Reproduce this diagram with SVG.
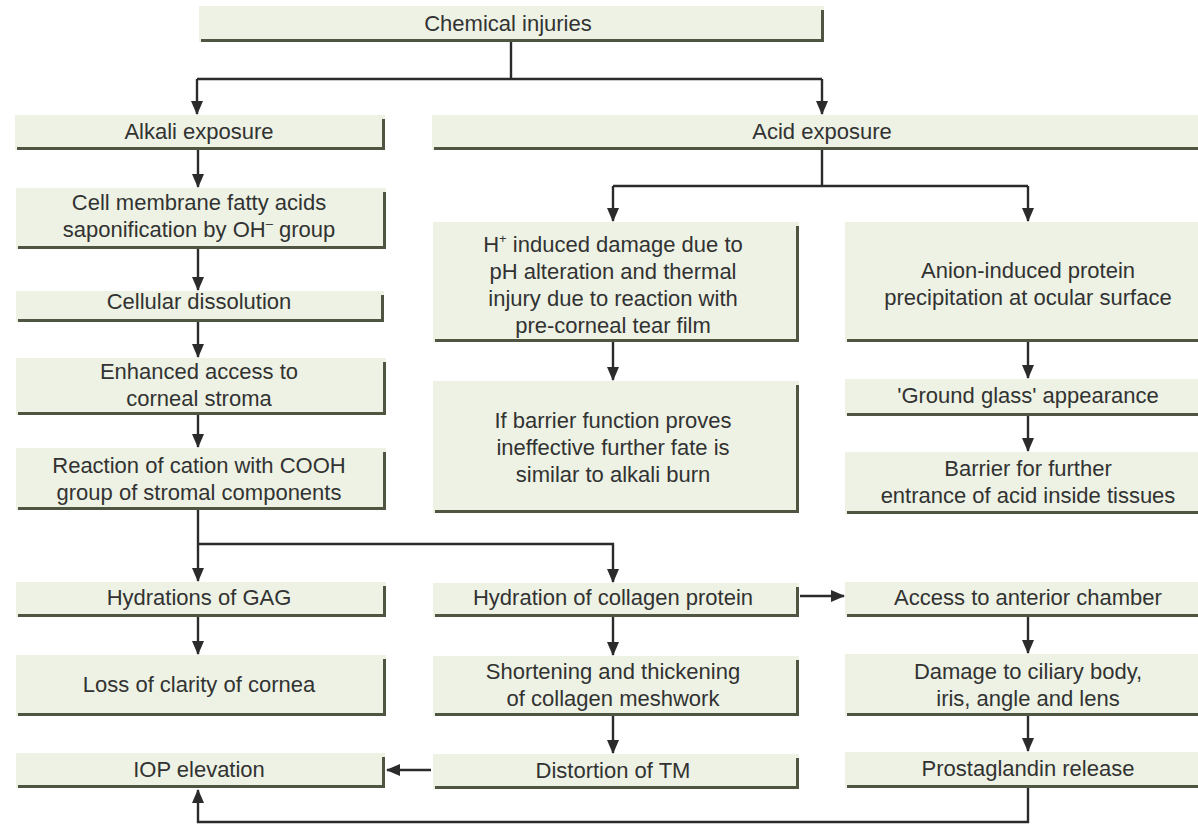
<svg xmlns="http://www.w3.org/2000/svg" width="1198" height="825" viewBox="0 0 1198 825">
  <style>
    .box { fill: #edf2e4; }
    .shadow { fill: none; stroke: #4e5540; stroke-width: 3; }
    .lbl { font-family: "Liberation Sans", Arial, sans-serif; font-size: 22px; fill: #323232; text-anchor: middle; }
    .sup { font-size: 13px; }
    .conn { fill: none; stroke: #2b2b2b; stroke-width: 2.4; }
    .arr { marker-end: url(#head); }
  </style>
  <defs>
    <marker id="head" viewBox="0 0 14 14" markerWidth="14" markerHeight="14" refX="13" refY="7" orient="auto" markerUnits="userSpaceOnUse">
      <path d="M0,1 L14,7 L0,13 z" fill="#2b2b2b"/>
    </marker>
  </defs>
  <rect width="1198" height="825" fill="#ffffff"/>

  <!-- connectors -->
  <g id="connectors">
    <path class="conn" d="M511,42 V79 M197,79 H822"/>
    <path class="conn arr" d="M197,79 V114"/>
    <path class="conn arr" d="M822,79 V114"/>
    <path class="conn arr" d="M198,150 V187"/>
    <path class="conn arr" d="M198,249 V290"/>
    <path class="conn arr" d="M198,322 V357"/>
    <path class="conn arr" d="M198,415 V447"/>
    <path class="conn arr" d="M198,510 V581"/>
    <path class="conn arr" d="M198,544 H613 V582"/>
    <path class="conn" d="M822,150 V186 M613,186 H1028"/>
    <path class="conn arr" d="M613,186 V221"/>
    <path class="conn arr" d="M1028,186 V221"/>
    <path class="conn arr" d="M613,342 V380"/>
    <path class="conn arr" d="M1028,342 V378"/>
    <path class="conn arr" d="M1028,416 V451"/>
    <path class="conn arr" d="M198,617 V654"/>
    <path class="conn arr" d="M613,617 V655"/>
    <path class="conn arr" d="M613,716 V753"/>
    <path class="conn arr" d="M800,596 H844"/>
    <path class="conn arr" d="M1028,617 V653"/>
    <path class="conn arr" d="M1028,716 V751"/>
    <path class="conn arr" d="M431,770 H387"/>
    <path class="conn arr" d="M1028,788 V822 H198 V790"/>
  </g>

  <!-- top -->
  <g id="chemical-injuries">
    <rect class="box" x="199" y="6" width="625" height="36"/>
    <path class="shadow" d="M201,40.5 H822.5 V10"/>
    <text class="lbl" x="508" y="31">Chemical injuries</text>
  </g>
  <g id="alkali-exposure">
    <rect class="box" x="15" y="115" width="370" height="35"/>
    <path class="shadow" d="M17,148.5 H383.5 V119"/>
    <text class="lbl" x="199" y="139">Alkali exposure</text>
  </g>
  <g id="acid-exposure">
    <rect class="box" x="432" y="115" width="775" height="35"/>
    <path class="shadow" d="M434,148.5 H1205"/>
    <text class="lbl" x="822" y="139">Acid exposure</text>
  </g>

  <!-- alkali branch -->
  <g id="saponification">
    <rect class="box" x="16" y="188" width="370" height="61"/>
    <path class="shadow" d="M18,247.5 H384.5 V192"/>
    <text class="lbl" x="199" y="210">Cell membrane fatty acids</text>
    <text class="lbl" x="199" y="237">saponification by OH<tspan class="sup" dy="-9">–</tspan><tspan dy="9"> group</tspan></text>
  </g>
  <g id="cellular-dissolution">
    <rect class="box" x="16" y="291" width="368" height="31"/>
    <path class="shadow" d="M18,320.5 H382.5 V295"/>
    <text class="lbl" x="199" y="309">Cellular dissolution</text>
  </g>
  <g id="enhanced-access">
    <rect class="box" x="16" y="358" width="370" height="57"/>
    <path class="shadow" d="M18,413.5 H384.5 V362"/>
    <text class="lbl" x="199" y="379">Enhanced access to</text>
    <text class="lbl" x="199" y="406">corneal stroma</text>
  </g>
  <g id="cation-reaction">
    <rect class="box" x="16" y="448" width="370" height="62"/>
    <path class="shadow" d="M18,508.5 H384.5 V452"/>
    <text class="lbl" x="199" y="473">Reaction of cation with COOH</text>
    <text class="lbl" x="199" y="500">group of stromal components</text>
  </g>
  <g id="gag-hydration">
    <rect class="box" x="16" y="582" width="370" height="35"/>
    <path class="shadow" d="M18,615.5 H384.5 V586"/>
    <text class="lbl" x="199" y="605">Hydrations of GAG</text>
  </g>
  <g id="loss-of-clarity">
    <rect class="box" x="16" y="655" width="370" height="61"/>
    <path class="shadow" d="M18,714.5 H384.5 V659"/>
    <text class="lbl" x="199" y="692">Loss of clarity of cornea</text>
  </g>
  <g id="iop-elevation">
    <rect class="box" x="16" y="753" width="369" height="35"/>
    <path class="shadow" d="M18,786.5 H383.5 V757"/>
    <text class="lbl" x="199" y="777">IOP elevation</text>
  </g>

  <!-- acid branch, middle -->
  <g id="h-induced-damage">
    <rect class="box" x="433" y="222" width="366" height="120"/>
    <path class="shadow" d="M435,340.5 H797.5 V226"/>
    <text class="lbl" x="613" y="252">H<tspan class="sup" dy="-9">+</tspan><tspan dy="9"> induced damage due to</tspan></text>
    <text class="lbl" x="613" y="279">pH alteration and thermal</text>
    <text class="lbl" x="613" y="306">injury due to reaction with</text>
    <text class="lbl" x="613" y="333">pre-corneal tear film</text>
  </g>
  <g id="barrier-ineffective">
    <rect class="box" x="433" y="381" width="366" height="132"/>
    <path class="shadow" d="M435,511.5 H797.5 V385"/>
    <text class="lbl" x="613" y="428">If barrier function proves</text>
    <text class="lbl" x="613" y="455">ineffective further fate is</text>
    <text class="lbl" x="613" y="482">similar to alkali burn</text>
  </g>

  <!-- acid branch, right -->
  <g id="anion-precipitation">
    <rect class="box" x="845" y="222" width="360" height="120"/>
    <path class="shadow" d="M847,340.5 H1205"/>
    <text class="lbl" x="1028" y="278">Anion-induced protein</text>
    <text class="lbl" x="1028" y="305">precipitation at ocular surface</text>
  </g>
  <g id="ground-glass">
    <rect class="box" x="845" y="379" width="360" height="37"/>
    <path class="shadow" d="M847,414.5 H1205"/>
    <text class="lbl" x="1028" y="403">'Ground glass' appearance</text>
  </g>
  <g id="acid-barrier">
    <rect class="box" x="845" y="452" width="360" height="62"/>
    <path class="shadow" d="M847,512.5 H1205"/>
    <text class="lbl" x="1028" y="476">Barrier for further</text>
    <text class="lbl" x="1028" y="503">entrance of acid inside tissues</text>
  </g>

  <!-- lower middle -->
  <g id="collagen-hydration">
    <rect class="box" x="433" y="583" width="366" height="34"/>
    <path class="shadow" d="M435,615.5 H797.5 V587"/>
    <text class="lbl" x="613" y="605">Hydration of collagen protein</text>
  </g>
  <g id="collagen-shortening">
    <rect class="box" x="433" y="656" width="366" height="60"/>
    <path class="shadow" d="M435,714.5 H797.5 V660"/>
    <text class="lbl" x="613" y="679">Shortening and thickening</text>
    <text class="lbl" x="613" y="706">of collagen meshwork</text>
  </g>
  <g id="tm-distortion">
    <rect class="box" x="433" y="754" width="366" height="35"/>
    <path class="shadow" d="M435,787.5 H797.5 V758"/>
    <text class="lbl" x="613" y="778">Distortion of TM</text>
  </g>

  <!-- lower right -->
  <g id="anterior-chamber">
    <rect class="box" x="845" y="582" width="360" height="35"/>
    <path class="shadow" d="M847,615.5 H1205"/>
    <text class="lbl" x="1028" y="605">Access to anterior chamber</text>
  </g>
  <g id="ciliary-damage">
    <rect class="box" x="845" y="654" width="360" height="62"/>
    <path class="shadow" d="M847,714.5 H1205"/>
    <text class="lbl" x="1028" y="679">Damage to ciliary body,</text>
    <text class="lbl" x="1028" y="706">iris, angle and lens</text>
  </g>
  <g id="prostaglandin-release">
    <rect class="box" x="845" y="752" width="360" height="36"/>
    <path class="shadow" d="M847,786.5 H1205"/>
    <text class="lbl" x="1028" y="776">Prostaglandin release</text>
  </g>
</svg>
